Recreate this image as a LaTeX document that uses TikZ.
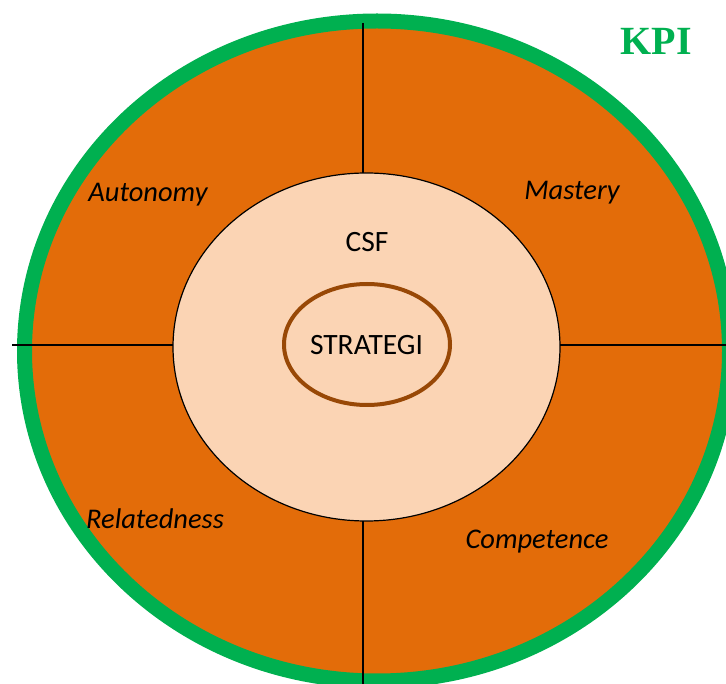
\documentclass[tikz,border=0pt]{standalone}
\usepackage{fontspec}
\setmainfont{Carlito}
\newfontfamily\kpifont{Liberation Serif}
\usetikzlibrary{positioning}

\definecolor{ringgreen}{HTML}{00B050}
\definecolor{kpiorange}{HTML}{E36C09}
\definecolor{csfpeach}{HTML}{FBD4B4}
\definecolor{strabrown}{HTML}{984806}

\tikzset{
  quarter/.style={font=\fontsize{28.5}{32}\selectfont\itshape, anchor=base},
  core/.style={font=\fontsize{29.5}{34}\selectfont, anchor=base},
  divider/.style={line width=1.5pt, black}
}

\begin{document}
\begin{tikzpicture}[x=1pt,y=-1pt]
	\useasboundingbox (0,0) rectangle (726,684);
	% rings
	\draw[ringgreen, line width=15pt, fill=kpiorange] (377,351) ellipse [x radius=352.5, y radius=330];
	
	\coordinate (top) at (363,23);
	\coordinate (bottom) at (363,690);
	\coordinate (left) at (12,345);
	\coordinate (right) at (730,345);
	\draw[divider] (top) -- (bottom);
	\draw[divider] (left) -- (right);
	
	\draw[black, line width=1.2pt, fill=csfpeach] (366.5,347) ellipse [x radius=193.5, y radius=174];
	\draw[strabrown, line width=4pt] (367,344.5) ellipse [x radius=83, y radius=60.5];
	
	% labels
	\node[quarter] (autonomy) at (148,202) {Autonomy};
	\node[quarter] (mastery) at (572,200) {Mastery};
	\node[quarter] (relatedness) at (155,529) {Relatedness};
	\node[quarter] (competence) at (537,548) {Competence};
	\node[core] (csf) at (367,252) {CSF};
	\node[core] (strategi) at (366.5,355) {STRATEGI};
	\node[anchor=base, text=ringgreen, font=\kpifont\bfseries\fontsize{40}{44}\selectfont] (kpi) at (656,55) {KPI};
\end{tikzpicture}
\end{document}
